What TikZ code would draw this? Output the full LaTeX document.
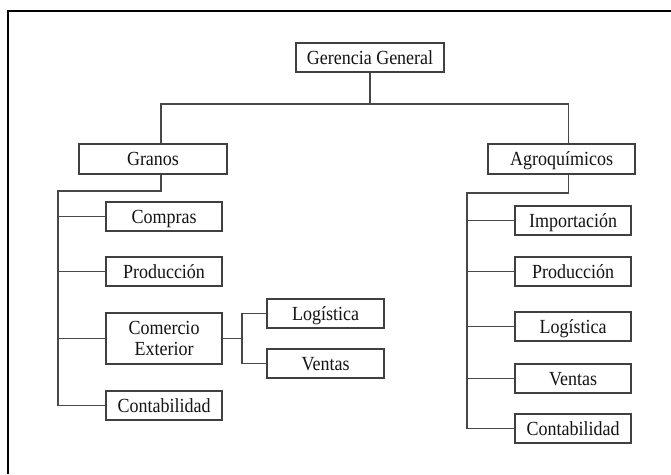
\documentclass[tikz,border=0pt]{standalone}
\usepackage{fontspec}
\setmainfont{Liberation Serif}
\newfontfamily\boxfont[FakeStretch=0.9]{Liberation Serif}
\usetikzlibrary{calc}
\begin{document}
\begin{tikzpicture}[x=1pt,y=-1pt,
  basebox/.style={draw=black!75, line width=1.3pt, fill=white, inner sep=0pt, align=center,
    font=\boxfont\fontsize{20}{21}\selectfont, text=black!92, minimum height=29pt},
  box/.style={basebox, text height=13.2pt, text depth=0pt},
  wide/.style={minimum width=148pt},
  child/.style={minimum width=116pt},
  conn/.style={draw=black!72, line width=1.2pt},
  frameline/.style={draw=black, line width=2.5pt}]
\useasboundingbox (0,0) rectangle (671,474);
\fill[white] (0,0) rectangle (671,474);
% outer frame (cropped)
\draw[frameline] (8,474) -- (8,11) -- (671,11);

% top level
\node[box, wide] (gg) at (370,57.5) {Gerencia General};
\node[box, wide, minimum height=30pt] (granos) at (153,159) {Granos};
\node[box, minimum width=147pt, minimum height=30pt] (agro) at (561.5,159) {Agroquímicos};

% left children
\node[box, child] (compras) at (164,216.5) {Compras};
\node[box, child] (prodL) at (164,271.5) {Producción};
\node[basebox, child, minimum height=51pt] (comercio) at (164,338.5) {Comercio\\Exterior};
\node[box, child] (contaL) at (164,405.5) {Contabilidad};

% sub children
\node[box, minimum width=117pt] (logL) at (325.5,313.5) {Logística};
\node[box, minimum width=117pt] (ventasL) at (325.5,363.5) {Ventas};

% right children
\node[box, child] (import) at (573,220.5) {Importación};
\node[box, child] (prodR) at (573,271.5) {Producción};
\node[box, child] (logR) at (573,326.5) {Logística};
\node[box, child] (ventasR) at (573,378.5) {Ventas};
\node[box, child] (contaR) at (573,428.5) {Contabilidad};

% connector coordinates
\coordinate (barL) at (161,104);
\coordinate (barR) at (568.5,104);
\coordinate (spL) at (58,191);
\coordinate (spS) at (242,339);
\coordinate (spR) at (467,193);

% top connectors
\draw[conn] (gg.south) -- (gg.south |- barL);
\draw[conn] (granos.north -| barL) -- (barL) -- (barR) -- (agro.north -| barR);

% left spine
\draw[conn] (granos.south -| barL) |- (spL) -- (contaL.west -| spL) -- (contaL.west);
\draw[conn] (compras.west -| spL) -- (compras.west);
\draw[conn] (prodL.west -| spL) -- (prodL.west);
\draw[conn] (comercio.west -| spL) -- (comercio.west);

% sub spine
\draw[conn] (comercio.east) -- (comercio.east -| spS);
\draw[conn] (logL.west) -- (logL.west -| spS) -- (ventasL.west -| spS) -- (ventasL.west);

% right spine
\draw[conn] (agro.south -| barR) |- (spR) -- (contaR.west -| spR) -- (contaR.west);
\draw[conn] (import.west -| spR) -- (import.west);
\draw[conn] (prodR.west -| spR) -- (prodR.west);
\draw[conn] (logR.west -| spR) -- (logR.west);
\draw[conn] (ventasR.west -| spR) -- (ventasR.west);
\end{tikzpicture}
\end{document}
